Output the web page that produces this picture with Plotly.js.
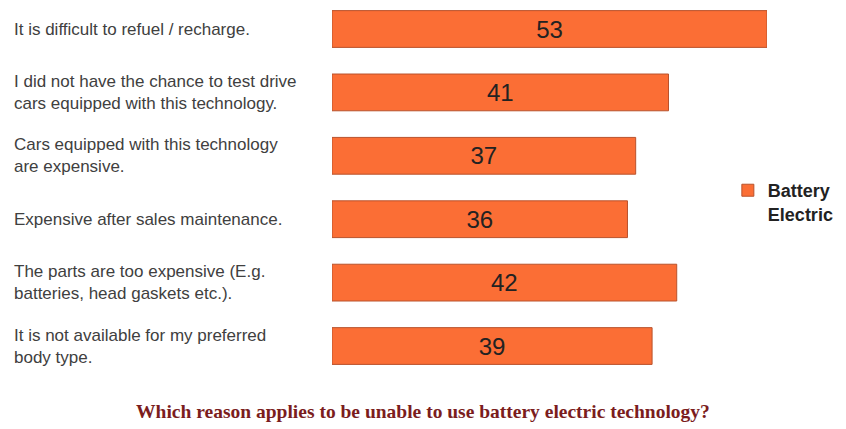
<!DOCTYPE html>
<html>
<head>
<meta charset="utf-8">
<script src="https://cdn.plot.ly/plotly-3.0.1.min.js"></script>
<style>html,body{margin:0;padding:0;background:#fff;}#chart{width:846px;height:429px;}</style>
</head>
<body>
<div id="chart"></div>
<script>
var categories = [
  "It is difficult to refuel / recharge.",
  "I did not have the chance to test drive<br>cars equipped with this technology.",
  "Cars equipped with this technology<br>are expensive.",
  "Expensive after sales maintenance.",
  "The parts are too expensive (E.g.<br>batteries, head gaskets etc.).",
  "It is not available for my preferred<br>body type."
];
var values = [53, 41, 37, 36, 42, 39];
var seriesName = "Battery<br>Electric";
var chartTitle = "Which reason applies to be unable to use battery electric technology?";

var trace = {
  type: "bar",
  orientation: "h",
  y: categories,
  x: values,
  name: "<b>" + seriesName + "</b>",
  width: 0.58,
  marker: {color: "#fb6e35", line: {color: "#b9522c", width: 1}},
  text: values.map(String),
  textposition: "inside",
  insidetextanchor: "middle",
  textangle: 0,
  textfont: {family: "Liberation Sans, Arial, sans-serif", size: 24, color: "#222"},
  hoverinfo: "none",
  showlegend: true
};

var annotations = categories.map(function (c) {
  return {
    xref: "paper", yref: "y", x: -0.7356, y: c,
    xanchor: "left", yanchor: "middle", align: "left",
    text: c, showarrow: false,
    font: {family: "Liberation Sans, Arial, sans-serif", size: 17, color: "#404040"}
  };
});

var layout = {
  width: 846, height: 429,
  margin: {l: 332, r: 79, t: 10, b: 49, autoexpand: false},
  paper_bgcolor: "#fff", plot_bgcolor: "#fff",
  xaxis: {range: [0, 53], visible: false, showgrid: false, zeroline: false},
  yaxis: {type: "category", range: [5.536, -0.2997], showticklabels: false, showgrid: false, zeroline: false, showline: false, ticks: ""},
  showlegend: true,
  legend: {
    x: 0.910, xref: "paper", y: 0.481, yanchor: "middle", xanchor: "left",
    valign: "top",
    font: {family: "Liberation Sans, Arial, sans-serif", size: 18, color: "#222"},
    bgcolor: "rgba(0,0,0,0)", itemwidth: 30
  },
  title: {
    text: "<b>" + chartTitle + "</b>",
    x: 0.5, xref: "container", xanchor: "center",
    y: 0.042, yref: "container", yanchor: "middle",
    font: {family: "Liberation Serif, DejaVu Serif, serif", size: 19.5, color: "#7b1d1d"}
  },
  annotations: annotations
};

Plotly.newPlot("chart", [trace], layout, {displayModeBar: false, staticPlot: true});
</script>
</body>
</html>
